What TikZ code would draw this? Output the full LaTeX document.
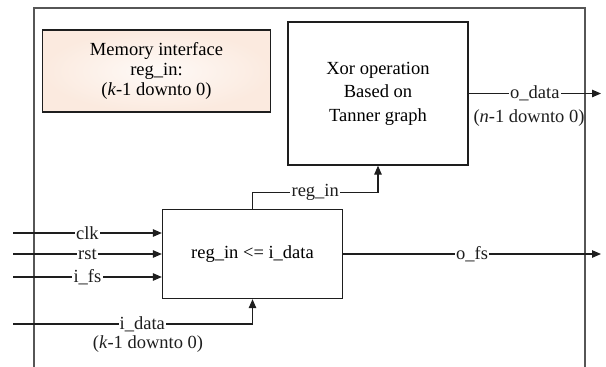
\documentclass[tikz,border=0pt]{standalone}
\usepackage{fontspec}
\setmainfont{Liberation Serif}
\usetikzlibrary{arrows.meta}
\definecolor{peach}{RGB}{251,234,223}
\definecolor{ln}{RGB}{30,30,30}
\tikzset{
  blk/.style={draw=ln, line width=1.3pt, align=center, inner sep=0pt},
  wire/.style={draw=ln, line width=1.1pt},
  arr/.style={wire, -{Triangle[length=9pt,width=7.5pt]}},
  lbl/.style={fill=white, inner sep=1.2pt, text=ln},
  txt/.style={text=ln},
}
\begin{document}
\begin{tikzpicture}[x=1pt,y=-1pt,font=\fontsize{18.5}{21}\selectfont]
\useasboundingbox (0,0) rectangle (606,367);
% outer frame
\draw[draw=ln!75, line width=1.4pt] (34,367) -- (34,8) -- (585,8) -- (585,367);
% blocks
\node[blk, minimum width=228pt, minimum height=82pt, inner color=peach!25, outer color=peach,
  font=\fontsize{18.5}{20}\selectfont] (mem) at (156.5,71)
  {Memory interface\\reg\_in:\\(\textit{k}-1 downto 0)};
\node[blk, fill=white, minimum width=180pt, minimum height=143pt, font=\fontsize{18.5}{23.5}\selectfont] (xor) at (378,93.5)
  {Xor operation\\Based on\\Tanner graph};
\node[blk, fill=white, minimum width=180pt, minimum height=89pt] (reg) at (252.5,254)
  {reg\_in <= i\_data};
% coordinates
\coordinate (clkin) at (13,233);
\coordinate (rstin) at (13,254);
\coordinate (fsin) at (13,277);
\coordinate (datin) at (13,324);
\coordinate (odout) at (601,93.5);
\coordinate (ofout) at (601,254);
% connectors
\draw[arr] (clkin) -- node[lbl] {clk} (clkin -| reg.west);
\draw[arr] (rstin) -- node[lbl] {rst} (rstin -| reg.west);
\draw[arr] (fsin) -- node[lbl] {i\_fs} (fsin -| reg.west);
\draw[arr] (datin) -| node[lbl, pos=0.27] (dl) {i\_data} (reg.south);
\node[txt] (dk) at (148,344) {(\textit{k}-1 downto 0)};
\draw[arr] (reg.north) -- ++(0,-16.5) -| node[lbl, pos=0.25] {reg\_in} (xor.south);
\draw[arr] (xor.east) -- node[lbl] {o\_data} (odout);
\node[txt] (nk) at (529,118) {(\textit{n}-1 downto 0)};
\draw[arr] (reg.east) -- node[lbl] {o\_fs} (ofout);
\end{tikzpicture}
\end{document}
